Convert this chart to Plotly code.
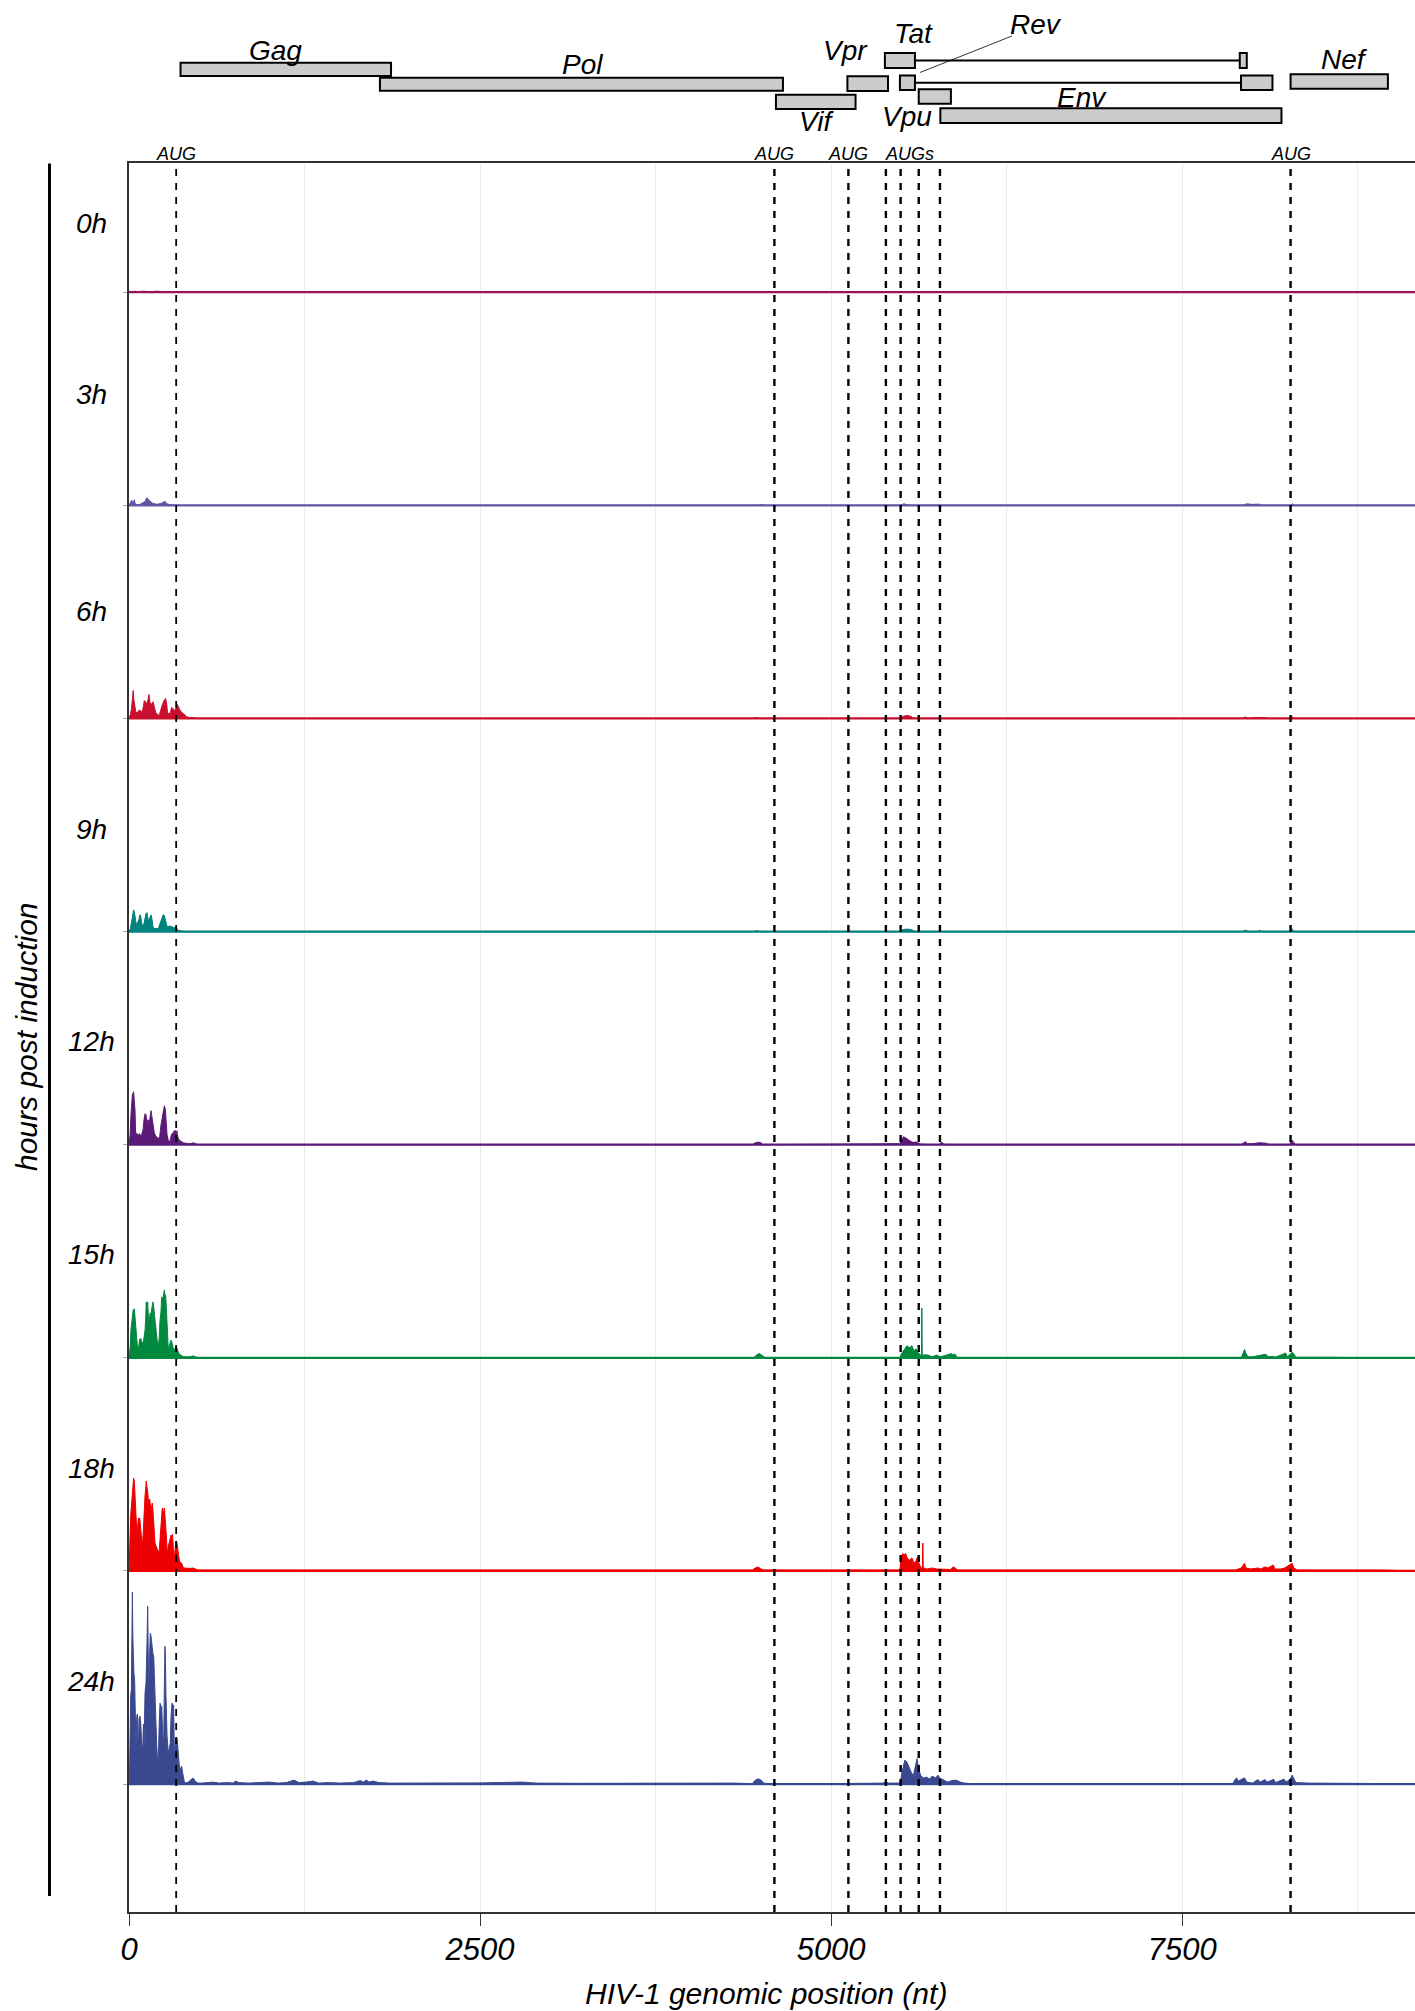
import plotly.graph_objects as go

# ribosome footprint density along the HIV-1 genome, one profile per time point
hours = ["0h", "3h", "6h", "9h", "12h", "15h", "18h", "24h"]
colors = ["#a0105a", "#6457a3", "#c8102e", "#00827f", "#5c1a78", "#00883e", "#ee0000", "#3a4890"]

# (genomic position nt, density)
cov_0h = [(0, 0), (40, 1), (60, 0.5), (100, 1), (150, 0.5), (200, 1), (250, 0.5), (280, 0), (9158, 0)]

cov_3h = [(0, 0), (10, 3), (19, 5), (28, 2), (38, 5.7), (45, 1), (60, 0.5), (80, 1), (102, 3.3),
          (115, 4), (126, 7.7), (138, 6), (150, 5), (165, 2.3), (180, 1.7), (200, 1), (230, 2),
          (256, 4), (270, 1.5), (300, 0.5), (350, 0), (640, 0), (648, 0.7), (660, 0),
          (4480, 0), (4500, 1), (4520, 0), (5480, 0), (5520, 1.5), (5560, 0), (7930, 0),
          (7960, 1.5), (8000, 1), (8050, 1.2), (8070, 0), (8270, 0), (8285, 1.5), (8300, 0), (9158, 0)]

cov_6h = [(0, 0), (10, 4), (18, 10), (24, 22), (30, 28), (33, 20), (38, 14), (44, 11.7), (48, 7),
          (57, 5), (64, 7), (71, 8.3), (81, 8), (90, 7), (95, 6), (102, 12), (109, 18), (114, 15),
          (119, 17), (128, 13), (135, 19), (142, 24), (150, 16), (157, 15), (164, 14), (171, 16.7),
          (176, 15), (180, 12), (190, 6), (200, 4), (209, 3), (219, 5), (228, 10), (238, 14),
          (250, 18), (261, 20), (268, 15), (275, 5), (284, 5), (292, 5), (304, 11), (316, 9),
          (327, 8), (338, 11), (344, 14), (352, 12), (363, 8), (380, 5.7), (394, 4), (411, 1.7),
          (430, 1), (458, 1), (480, 0), (4450, 0), (4470, 1), (4490, 0), (5490, 0), (5510, 2),
          (5540, 3), (5570, 2), (5590, 0), (7930, 0), (7950, 1.5), (7970, 0), (8020, 1), (8090, 1),
          (8110, 0), (8270, 0), (8282, 2), (8295, 0), (9158, 0)]

cov_9h = [(0, 0), (10, 3), (16, 8), (24, 16), (33, 21.7), (38, 20), (45, 10), (52, 6.7), (57, 8),
          (71, 12), (76, 16.7), (83, 16), (90, 9), (97, 5), (107, 8), (114, 14), (121, 18),
          (128, 19), (133, 15), (138, 10), (142, 12), (150, 14), (157, 16.7), (163, 13), (171, 5),
          (180, 3), (190, 3), (200, 3), (209, 3), (221, 8), (233, 14), (243, 16.7), (247, 16.7),
          (252, 16), (259, 12), (266, 8), (271, 5), (280, 5), (290, 5.7), (304, 5), (316, 4),
          (323, 4.3), (332, 4.3), (340, 3), (348, 2), (355, 1), (375, 0.5), (399, 0), (4450, 0),
          (4470, 1), (4490, 0), (5490, 0), (5510, 2), (5540, 2.5), (5570, 2), (5600, 0),
          (7930, 0), (7950, 1.5), (7970, 0), (8040, 0), (8050, 1.5), (8065, 0), (8265, 0),
          (8280, 3), (8295, 0), (9158, 0)]

cov_12h = [(0, 0), (8, 10), (14, 30), (19, 40), (24, 50), (33, 53), (38, 44), (43, 34), (47, 12),
           (55, 11), (66, 10), (76, 11), (83, 9), (90, 10), (100, 15), (107, 25), (114, 31),
           (121, 30), (128, 20), (133, 25), (138, 24), (142, 20), (152, 27), (157, 34), (161, 30),
           (171, 22), (180, 12), (190, 9), (200, 7), (209, 7), (216, 5), (228, 20), (238, 27),
           (247, 36), (252, 39), (259, 35), (266, 22), (271, 10), (280, 4), (290, 3), (304, 10.7),
           (315, 12), (323, 14), (332, 14), (337, 12), (341, 14), (345, 10), (352, 6), (363, 4),
           (387, 2), (411, 1.3), (440, 1), (458, 2), (470, 1), (490, 0), (4440, 0), (4460, 2),
           (4480, 2.6), (4500, 2), (4515, 0), (5490, 1), (5500, 4), (5515, 8), (5530, 7),
           (5545, 5), (5560, 4), (5575, 3), (5590, 2), (5600, 3), (5620, 2), (5640, 0.5),
           (5770, 0), (5785, 2.6), (5800, 1), (5815, 0), (7920, 0), (7935, 2), (7950, 3),
           (7965, 1), (8000, 1), (8050, 2), (8100, 1.5), (8120, 0), (8265, 0), (8275, 3),
           (8283, 4.5), (8295, 2), (8310, 0), (9158, 0)]

cov_15h = [(0, 0), (8, 10), (14, 28), (19, 35), (24, 42), (30, 48), (38, 49), (44, 40), (50, 29),
           (56, 18), (62, 7.7), (70, 12), (76, 19), (81, 17), (85, 19.3), (90, 14), (95, 16),
           (102, 15), (108, 20), (114, 27.7), (119, 40), (123, 56), (128, 48), (133, 56),
           (139, 38), (145, 37.7), (151, 45), (157, 44), (163, 50), (171, 56), (178, 48),
           (185, 37.7), (191, 28), (197, 21), (203, 14), (209, 11), (215, 20), (221, 37.7),
           (227, 45), (233, 61), (240, 58), (247, 64), (252, 68), (257, 60), (261, 63), (266, 50),
           (271, 37.7), (276, 20), (280, 7.7), (287, 12), (294, 16), (299, 17.7), (304, 16),
           (310, 10), (316, 9), (323, 8), (330, 11), (335, 11.7), (340, 10), (346, 7), (351, 4.3),
           (356, 4), (365, 3), (375, 2), (387, 1.3), (399, 1), (430, 1), (458, 2), (470, 1),
           (490, 0), (4450, 0), (4470, 3), (4490, 4.4), (4510, 2), (4530, 0), (5490, 0),
           (5500, 4), (5520, 8), (5540, 12), (5560, 10), (5575, 12.3), (5590, 7), (5605, 9),
           (5620, 5), (5635, 3), (5643, 2), (5646, 50), (5649, 2), (5660, 3), (5690, 2.8),
           (5720, 1), (5750, 2.8), (5780, 1), (5855, 4.2), (5870, 3), (5880, 4), (5900, 0),
           (7920, 0), (7935, 5), (7944, 8.4), (7955, 4), (7970, 1), (8000, 1), (8090, 3.5),
           (8100, 3), (8115, 1), (8150, 1.5), (8160, 0.5), (8225, 4), (8235, 5), (8250, 1),
           (8275, 4), (8283, 5.6), (8295, 4), (8310, 0.5), (8600, 0.5), (8620, 0), (9158, 0)]

cov_18h = [(0, 0), (4, 20), (7, 45), (12, 55), (19, 68), (24, 80), (28, 88), (33, 93), (38, 90),
           (43, 75), (48, 51.7), (52, 40), (57, 35), (62, 45), (67, 53), (71, 50), (76, 53),
           (81, 45), (86, 35), (90, 28), (96, 25), (102, 40), (108, 68), (114, 75), (119, 82),
           (123, 90), (127, 85), (130, 83), (134, 78), (138, 70), (143, 68), (147, 72), (152, 68),
           (157, 60), (161, 64), (166, 68), (171, 60), (176, 45), (180, 35), (185, 28), (192, 25),
           (199, 22), (207, 20), (214, 18), (221, 30), (228, 48), (233, 55), (237, 63), (242, 60),
           (247, 58), (252, 63), (257, 55), (261, 45), (266, 35), (271, 22), (276, 18), (280, 25),
           (287, 30), (294, 33), (300, 36), (305, 34), (309, 36.7), (313, 30), (316, 20),
           (320, 11.7), (323, 15), (328, 25), (335, 30), (341, 28), (346, 22), (351, 18),
           (357, 12), (363, 8.3), (372, 8.3), (380, 6), (387, 3.3), (394, 3), (410, 2.7),
           (434, 2.5), (455, 3), (470, 2), (490, 1), (1200, 1), (2000, 1), (3000, 1), (4440, 1),
           (4460, 3), (4480, 4), (4500, 2), (4520, 1), (5300, 1), (5490, 1), (5495, 10),
           (5500, 14), (5510, 17.5), (5520, 16), (5530, 17.6), (5545, 12), (5560, 11), (5575, 13),
           (5590, 8), (5605, 10), (5615, 14), (5625, 8), (5640, 3), (5650, 3), (5653, 28),
           (5656, 3), (5680, 2), (5720, 3), (5750, 2), (5790, 2), (5850, 1.5), (5870, 4),
           (5880, 3.5), (5900, 1), (7880, 1), (7900, 2), (7920, 3), (7944, 7.7), (7955, 3),
           (7990, 2), (8040, 3), (8060, 2), (8090, 4), (8110, 3), (8149, 6), (8160, 2), (8200, 2),
           (8230, 3), (8283, 7.7), (8295, 3), (8320, 1), (8900, 1), (9000, 0.5), (9158, 0)]

cov_24h = [(0, 0), (5, 20), (12, 88), (17, 95), (21, 150), (24, 192), (27, 150), (30, 125),
           (35, 111), (40, 105), (45, 60), (50, 35), (55, 68), (60, 70), (66, 34), (72, 66),
           (78, 68), (84, 60), (90, 40), (97, 34), (103, 60), (107, 34), (114, 91), (121, 101),
           (128, 140), (133, 178), (138, 120), (142, 101), (147, 130), (152, 151), (157, 148),
           (162, 140), (171, 130), (176, 128), (180, 110), (186, 80), (190, 58), (197, 40),
           (204, 21), (209, 25), (215, 60), (221, 81), (227, 78), (233, 78), (240, 50), (247, 39),
           (252, 100), (256, 138), (259, 130), (263, 90), (266, 60), (271, 48), (280, 31),
           (287, 35), (294, 41), (300, 70), (306, 81), (312, 79), (318, 79), (323, 28), (328, 35),
           (332, 46), (337, 44), (342, 46), (346, 40), (351, 28), (357, 20), (363, 14), (370, 18),
           (375, 18), (381, 12), (387, 6), (393, 3), (399, 1), (422, 2), (446, 5), (458, 6),
           (470, 3), (490, 1), (520, 1), (560, 1.5), (600, 2), (640, 1), (700, 1.5), (740, 1),
           (762, 3), (780, 1.5), (850, 1), (920, 1.5), (1000, 2), (1060, 1), (1120, 1.5),
           (1175, 4), (1210, 1.5), (1260, 2), (1311, 3), (1350, 1), (1420, 1.5), (1500, 1),
           (1600, 1.5), (1645, 3.5), (1670, 2), (1690, 4), (1710, 2), (1737, 3), (1780, 1.5),
           (1850, 1), (2000, 1), (2200, 0.8), (2500, 1.2), (2800, 2), (2900, 1), (3200, 0.8),
           (3600, 1), (4000, 0.8), (4300, 1), (4440, 0.5), (4460, 4), (4480, 5.3), (4500, 4),
           (4520, 1), (4560, 0.5), (5000, 0.5), (5370, 1), (5390, 2), (5405, 1), (5480, 1),
           (5495, 3), (5502, 10), (5515, 18), (5525, 24), (5540, 22), (5555, 16), (5570, 12),
           (5585, 8), (5600, 20), (5612, 25.5), (5625, 14), (5640, 8), (5660, 6), (5680, 7),
           (5700, 5), (5720, 8), (5745, 6), (5760, 9), (5775, 6), (5800, 4), (5830, 2),
           (5860, 3.5), (5890, 4), (5920, 2), (5950, 1), (6000, 0.5), (7000, 0.5), (7860, 0.5),
           (7875, 4), (7887, 6.3), (7900, 3), (7930, 5), (7944, 6.3), (7960, 2), (8000, 1),
           (8040, 4.5), (8055, 2), (8090, 4.5), (8105, 2), (8140, 4), (8150, 5), (8165, 1.5),
           (8210, 4), (8225, 5), (8240, 2), (8270, 5), (8283, 9), (8295, 6), (8310, 1.5),
           (8400, 1), (8800, 1), (9000, 0.5), (9158, 0)]

covs = [cov_0h, cov_3h, cov_6h, cov_9h, cov_12h, cov_15h, cov_18h, cov_24h]

# start codons marked with dashed lines
aug_sites = [336, 4596, 5123, 5390, 5495, 5624, 5775, 8272]
aug_text_pos = [336, 4596, 5123, 5560, 8272]
aug_text = ["AUG", "AUG", "AUG", "AUGs", "AUG"]

# HIV-1 genes (nt)
gene_names = ["Gag", "Pol", "Vif", "Vpr", "Vpu", "Env", "Nef"]
gene_start = [367, 1787, 4607, 5116, 5624, 5778, 8272]
gene_end = [1866, 4657, 5174, 5405, 5853, 8207, 8965]
tat_exons = [(5383, 5597), (7910, 7960)]
rev_exons = [(5490, 5597), (7919, 8143)]

W, H = 1415, 2011
L, R, T, B = 129, 0, 163, 99
PH = H - T - B
XMAX = 9158
ROW = 213.3
FONT = "Liberation Sans"


def py(y):
    # figure pixel row -> paper y
    return (H - B - y) / PH


def px(x):
    return (x - L) / (W - L - R)


# gene track layout: (top px, bottom px, label nt, label px)
gene_track = {
    "Gag": (62.7, 76, 1045, 50),
    "Pol": (77.7, 90.7, 3230, 65),
    "Vif": (94.7, 109, 4899, 122),
    "Vpr": (76.3, 91, 5105, 50),
    "Vpu": (89.3, 103.7, 5540, 116),
    "Env": (108.3, 123, 6784, 97),
    "Nef": (74.3, 88.7, 8657, 59),
}

fig = go.Figure()

for i, (lab, cov, col) in enumerate(zip(hours, covs, colors)):
    base = -i * ROW
    fig.add_trace(go.Scatter(
        x=[p for p, _ in cov], y=[base + v for _, v in cov],
        mode="lines", fill="toself", fillcolor=col,
        line=dict(color=col, width=1), hoverinfo="skip", showlegend=False))
    fig.add_trace(go.Scatter(
        x=[0, XMAX], y=[base, base], mode="lines",
        line=dict(color=col, width=2.2), hoverinfo="skip", showlegend=False))

shapes = []
annotations = []

for k, s in enumerate(aug_sites):
    shapes.append(dict(type="line", xref="x", yref="paper", x0=s, x1=s, y0=0, y1=1,
                       line=dict(color="black", width=1.8 if k == 0 else 2.4, dash="7px,7px")))
for s, t in zip(aug_text_pos, aug_text):
    annotations.append(dict(x=s, y=py(154), xref="x", yref="paper", text=t, showarrow=False,
                            xanchor="center", yanchor="middle",
                            font=dict(family=FONT, size=18, style="italic", color="black")))

# gene boxes
for g, a, b in zip(gene_names, gene_start, gene_end):
    top, bot, lx, ly = gene_track[g]
    shapes.append(dict(type="rect", xref="x", yref="paper", x0=a, x1=b, y0=py(bot), y1=py(top),
                       fillcolor="#cccccc", line=dict(color="black", width=2)))
    annotations.append(dict(x=lx, y=py(ly), xref="x", yref="paper", text=g, showarrow=False,
                            xanchor="center", yanchor="middle",
                            font=dict(family=FONT, size=28, style="italic", color="black")))

# spliced genes: two exons joined by a line
for exons, top, bot in [(tat_exons, 53, 68), (rev_exons, 75.5, 90)]:
    mid = (top + bot) / 2
    shapes.append(dict(type="line", xref="x", yref="paper", x0=exons[0][1], x1=exons[1][0],
                       y0=py(mid), y1=py(mid), line=dict(color="black", width=2)))
    for a, b in exons:
        shapes.append(dict(type="rect", xref="x", yref="paper", x0=a, x1=b, y0=py(bot), y1=py(top),
                           fillcolor="#cccccc", line=dict(color="black", width=2)))
annotations.append(dict(x=5586, y=py(33), xref="x", yref="paper", text="Tat", showarrow=False,
                        xanchor="center", yanchor="middle",
                        font=dict(family=FONT, size=28, style="italic", color="black")))
annotations.append(dict(x=6457, y=py(24), xref="x", yref="paper", text="Rev", showarrow=False,
                        xanchor="center", yanchor="middle",
                        font=dict(family=FONT, size=28, style="italic", color="black")))
shapes.append(dict(type="line", xref="x", yref="paper", x0=6288, x1=5633, y0=py(36), y1=py(72.5),
                   line=dict(color="black", width=0.8)))

# row labels
label_lift = [69, 111, 107, 102, 103, 103, 103, 103]
for i, lab in enumerate(hours):
    annotations.append(dict(x=px(91), y=-i * ROW + label_lift[i], xref="paper", yref="y", text=lab,
                            showarrow=False, xanchor="center", yanchor="middle",
                            font=dict(family=FONT, size=28, style="italic", color="black")))

# y title with bracket line
shapes.append(dict(type="line", xref="paper", yref="paper", x0=px(49.5), x1=px(49.5),
                   y0=py(1896), y1=py(163.5), line=dict(color="black", width=3)))
annotations.append(dict(x=px(26), y=py(1037), xref="paper", yref="paper", text="hours post induction",
                        textangle=-90, showarrow=False, xanchor="center", yanchor="middle",
                        font=dict(family=FONT, size=30, style="italic", color="black")))
annotations.append(dict(x=px(766), y=py(1994), xref="paper", yref="paper",
                        text="HIV-1 genomic position (nt)", showarrow=False,
                        xanchor="center", yanchor="middle",
                        font=dict(family=FONT, size=30, style="italic", color="black")))

fig.update_layout(
    width=W, height=H, margin=dict(l=L, r=R, t=T, b=B),
    paper_bgcolor="white", plot_bgcolor="white",
    shapes=shapes, annotations=annotations, showlegend=False,
)
fig.update_xaxes(
    range=[0, XMAX], tickmode="array", tickvals=[0, 2500, 5000, 7500],
    ticks="outside", ticklen=12, tickwidth=1, tickcolor="#333", ticklabelstandoff=-3,
    tickfont=dict(family=FONT, size=31, style="italic", color="black"),
    showgrid=True, gridcolor="#ebebeb", gridwidth=1,
    minor=dict(tickvals=[1250, 3750, 6250, 8750], showgrid=True, gridcolor="#ebebeb", gridwidth=1),
    showline=True, linecolor="#333", linewidth=2, mirror=True, zeroline=False,
)
fig.update_yaxes(
    range=[-7 * ROW - 128, 129.3], showgrid=False, zeroline=False,
    showline=True, linecolor="#333", linewidth=1.5,
    tickmode="array", tickvals=[-i * ROW for i in range(8)], ticks="outside",
    ticklen=4, tickcolor="#aaa", showticklabels=False,
)

# drop the default page margin so the figure sits at the window's corner
fig.write_html("out.html", config={"displayModeBar": False},
               post_script="document.body.style.margin='0';")
